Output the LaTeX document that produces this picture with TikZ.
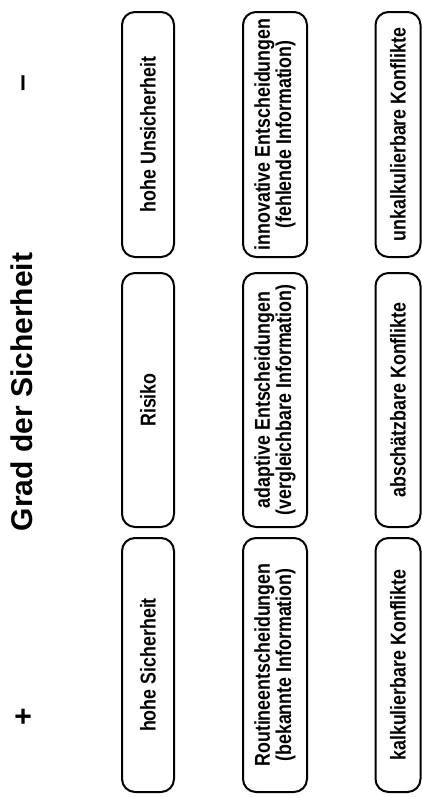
\documentclass[tikz,border=0pt]{standalone}
\usepackage{fontspec}
\setmainfont{Liberation Sans}
\newfontfamily\cellfont[FakeStretch=0.83]{Liberation Sans Bold}
\begin{document}
\begin{tikzpicture}[x=1pt,y=-1pt,
  cell/.style={draw=black, line width=2pt, rounded corners=13pt, rotate=90,
    inner sep=0pt, align=center, font=\cellfont\fontsize{21.5}{20}\selectfont},
  col1/.style={cell, minimum height=52pt},
  col2/.style={cell, minimum height=64pt},
  col3/.style={cell, minimum height=45pt},
  row1/.style={minimum width=245pt},
  row2/.style={minimum width=254pt},
  row3/.style={minimum width=254pt},
  heading/.style={rotate=90, inner sep=0pt, font=\bfseries\fontsize{30}{32}\selectfont},
  sign/.style={rotate=90, inner sep=0pt, font=\bfseries\fontsize{30}{32}\selectfont}]
\useasboundingbox[fill=white] (0,0) rectangle (422,798);

% axis heading and its two ends
\node[heading] (title) at (22,392) {Grad der Sicherheit};
\node[sign] (plus) at (25,717) {+};
\node[sign] (minus) at (27,83) {–};

% first column: degree of certainty
\node[col1,row3] (c1r3) at (148,665) {hohe Sicherheit};
\node[col1,row2] (c1r2) at (148,400) {Risiko};
\node[col1,row1] (c1r1) at (148,134.5) {hohe Unsicherheit};

% second column: kind of decision
\node[col2,row3] (c2r3) at (275,665) {Routineentscheidungen\\(bekannte Information)};
\node[col2,row2] (c2r2) at (275,400) {adaptive Entscheidungen\\(vergleichbare Information)};
\node[col2,row1] (c2r1) at (275,134.5) {innovative Entscheidungen\\(fehlende Information)};

% third column: kind of conflict
\node[col3,row3] (c3r3) at (398,665) {kalkulierbare Konflikte};
\node[col3,row2] (c3r2) at (398,400) {abschätzbare Konflikte};
\node[col3,row1] (c3r1) at (398,134.5) {unkalkulierbare Konflikte};
\end{tikzpicture}
\end{document}
